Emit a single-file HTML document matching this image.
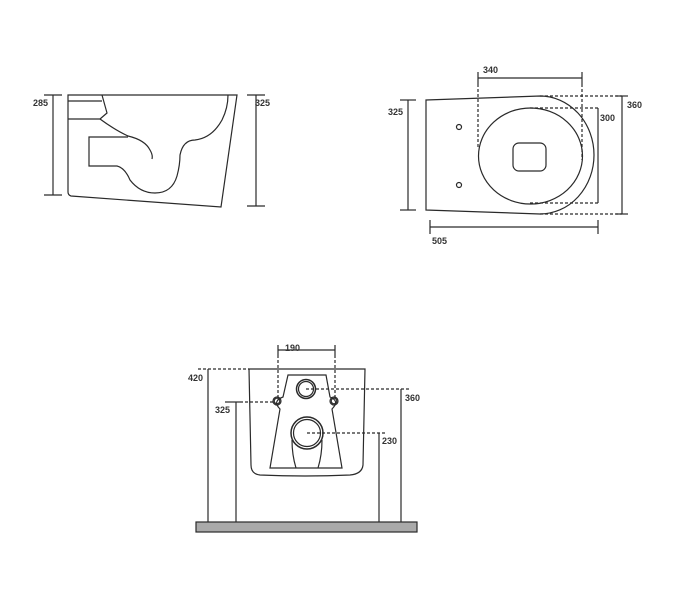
<!DOCTYPE html>
<html><head><style>body{margin:0;background:#fff}svg{display:block}text{font-family:"Liberation Sans",sans-serif;font-size:9px;font-weight:bold;fill:#333}</style></head>
<body>
<svg width="681" height="590" viewBox="0 0 681 590" fill="none" stroke="#2a2a2a" stroke-width="1.2">
<!-- side view -->
<line x1="53" y1="95" x2="53" y2="195"/><line x1="44" y1="95" x2="62" y2="95"/><line x1="44" y1="195" x2="62" y2="195"/>
<text x="33" y="106" stroke="none">285</text>
<line x1="256" y1="95" x2="256" y2="206"/><line x1="247" y1="95" x2="265" y2="95"/><line x1="247" y1="206" x2="265" y2="206"/>
<text x="255" y="106" stroke="none">325</text>
<path d="M68 95 L237 95 L221 207 L71 196 Q68 195 68 192 Z"/>
<path d="M68 101 L102 101 M102 95 L107 113 L100 119 L68 119"/>
<path d="M100 119 Q115 130 128 136 Q145 140 150 150 Q153 155 152 159"/>
<path d="M128 137 L89 137 L89 166 L117 166 Q125 168 130 180 Q140 193 155 193 Q172 193 177 176 Q180 165 180 155 Q183 140 195 140 Q212 138 222 120 Q228 108 228 95"/>
<!-- top view -->
<line x1="478" y1="78" x2="582" y2="78"/><line x1="478" y1="72" x2="478" y2="84"/><line x1="582" y1="72" x2="582" y2="84"/>
<text x="483" y="73" stroke="none">340</text>
<g stroke-dasharray="3,2"><line x1="478" y1="84" x2="478" y2="147"/><line x1="582" y1="84" x2="582" y2="160"/>
<line x1="540" y1="96" x2="622" y2="96"/><line x1="530" y1="108" x2="598" y2="108"/><line x1="530" y1="203" x2="598" y2="203"/><line x1="540" y1="214" x2="622" y2="214"/></g>
<path d="M426 100 L540 96 A54 59 0 0 1 540 214 L426 210 Z"/>
<ellipse cx="530.5" cy="156" rx="52" ry="48"/>
<rect x="513" y="143" width="33" height="28" rx="6"/>
<circle cx="459" cy="127" r="2.5"/><circle cx="459" cy="185" r="2.5"/>
<line x1="598" y1="108" x2="598" y2="203"/><text x="600" y="121" stroke="none">300</text>
<line x1="622" y1="96" x2="622" y2="214"/><line x1="616" y1="96" x2="628" y2="96"/><line x1="616" y1="214" x2="628" y2="214"/><text x="627" y="108" stroke="none">360</text>
<line x1="408" y1="100" x2="408" y2="210"/><line x1="400" y1="100" x2="416" y2="100"/><line x1="400" y1="210" x2="416" y2="210"/><text x="388" y="115" stroke="none">325</text>
<line x1="430" y1="227" x2="598" y2="227"/><line x1="430" y1="220" x2="430" y2="234"/><line x1="598" y1="220" x2="598" y2="234"/><text x="432" y="244" stroke="none">505</text>
<!-- front view -->
<line x1="278" y1="350" x2="335" y2="350"/><line x1="278" y1="345" x2="278" y2="355"/><line x1="335" y1="345" x2="335" y2="355"/>
<text x="285" y="351" stroke="none">190</text>
<g stroke-dasharray="3,2"><line x1="278" y1="355" x2="278" y2="398"/><line x1="335" y1="355" x2="335" y2="398"/>
<line x1="198" y1="369" x2="249" y2="369"/><line x1="240" y1="402" x2="273" y2="402"/><line x1="306" y1="389" x2="409" y2="389"/><line x1="307" y1="433" x2="387" y2="433"/></g>
<line x1="225" y1="402" x2="240" y2="402"/>
<path d="M249 369 L365 369 L363 465 Q362 474 350 475 Q305 477 260 475 Q251 474 251 465 Z"/>
<path d="M288 375 L326 375 L330 397 Q340 401 332 409 L342 468 L270 468 L280 409 Q272 401 283 397 Z"/>
<circle cx="277" cy="401" r="4"/><circle cx="277" cy="401" r="2.8"/><circle cx="334" cy="401" r="4"/><circle cx="334" cy="401" r="2.8"/>
<circle cx="306" cy="389" r="9.5" stroke-width="1.5"/><circle cx="306" cy="389" r="7.5"/>
<circle cx="307" cy="433" r="16" stroke-width="1.5"/><circle cx="307" cy="433" r="13.5"/>
<path d="M292 440 Q292 455 296 468 M322 440 Q322 455 318 468"/>
<line x1="208" y1="369" x2="208" y2="522"/><text x="188" y="381" stroke="none">420</text>
<line x1="236" y1="402" x2="236" y2="522"/><text x="215" y="413" stroke="none">325</text>
<line x1="401" y1="389" x2="401" y2="522"/><text x="405" y="401" stroke="none">360</text>
<line x1="379" y1="433" x2="379" y2="522"/><text x="382" y="444" stroke="none">230</text>
<rect x="196" y="522" width="221" height="10" fill="#aaaaaa"/>
</svg>
</body></html>
